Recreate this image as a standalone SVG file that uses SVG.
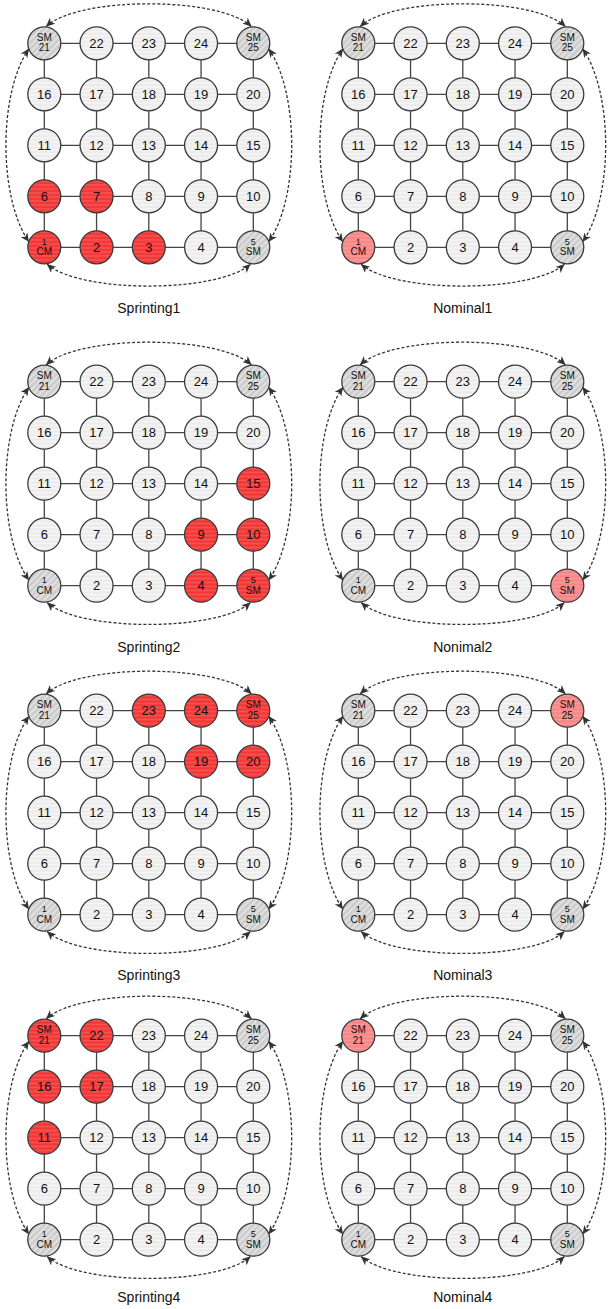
<svg xmlns="http://www.w3.org/2000/svg" width="608" height="1309" viewBox="0 0 608 1309">
  <style>
    .grid { fill: none; stroke: #444; stroke-width: 1.3; }
    .arc { fill: none; stroke: #333; stroke-width: 1.3; stroke-dasharray: 3 2; marker-start: url(#arrow); marker-end: url(#arrow); }
    circle { stroke: #3a3a3a; stroke-width: 1.3; }
    .n { fill: url(#stripeGray); }
    .r { fill: url(#stripeRed); }
    .l { fill: url(#stripePink); }
    .h { fill: url(#hatchGray); }
    text { font-family: "Liberation Sans", Arial, sans-serif; text-anchor: middle; fill: #111; }
    .num { font-size: 13px; }
    .sm { font-size: 10px; }
    .xs { font-size: 9px; }
    .cap { font-size: 14px; }
  </style>
  <defs>
    <pattern id="stripeGray" patternUnits="userSpaceOnUse" width="8" height="4">
      <rect width="8" height="4" fill="#ebebeb"/>
      <rect width="8" height="1.4" fill="#f8f8f8"/>
    </pattern>
    <pattern id="stripeRed" patternUnits="userSpaceOnUse" width="8" height="4">
      <rect width="8" height="4" fill="#f23737"/>
      <rect width="8" height="1.4" fill="#f65858"/>
    </pattern>
    <pattern id="stripePink" patternUnits="userSpaceOnUse" width="8" height="4">
      <rect width="8" height="4" fill="#f78686"/>
      <rect width="8" height="1.4" fill="#f89c9c"/>
    </pattern>
    <pattern id="hatchGray" patternUnits="userSpaceOnUse" width="4.5" height="8" patternTransform="rotate(45)">
      <rect width="4.5" height="8" fill="#cdcdcd"/>
      <rect width="1.6" height="8" fill="#e4e4e4"/>
    </pattern>
    <marker id="arrow" viewBox="0 0 9 8" refX="8.5" refY="4" markerWidth="9" markerHeight="8" markerUnits="userSpaceOnUse" orient="auto-start-reverse">
      <path d="M0,0 L9,4 L0,8 L2.5,4 Z" fill="#333"/>
    </marker>
  </defs>

  <!-- ===== Sprinting1 ===== -->
  <g id="panel-s1" transform="translate(44.3,43.3)">
    <g id="s1-edges">
      <path class="grid" d="M0,0H209M0,51H209M0,102H209M0,153H209M0,204H209M0,0V204M52.25,0V204M104.5,0V204M156.75,0V204M209,0V204"/>
      <path class="arc" d="M2,-17 C35,-47 174,-47 207,-17"/>
      <path class="arc" d="M-15.5,5.6 C-46,50 -46,154 -15.5,198.4"/>
      <path class="arc" d="M224.5,5.6 C255,50 255,154 224.5,198.4"/>
      <path class="arc" d="M3,221 C36,250 173,250 206,221"/>
    </g>
    <g id="s1-n1" transform="translate(0,204)"><circle class="r" r="16.5"/><text class="xs" y="-2.4">1</text><text class="sm" y="8">CM</text></g>
    <g id="s1-n2" transform="translate(52.25,204)"><circle class="r" r="16.5"/><text class="num" y="4.6">2</text></g>
    <g id="s1-n3" transform="translate(104.5,204)"><circle class="r" r="16.5"/><text class="num" y="4.6">3</text></g>
    <g id="s1-n4" transform="translate(156.75,204)"><circle class="n" r="16.5"/><text class="num" y="4.6">4</text></g>
    <g id="s1-n5" transform="translate(209,204)"><circle class="h" r="16.5"/><text class="xs" y="-2.4">5</text><text class="sm" y="8">SM</text></g>
    <g id="s1-n6" transform="translate(0,153)"><circle class="r" r="16.5"/><text class="num" y="4.6">6</text></g>
    <g id="s1-n7" transform="translate(52.25,153)"><circle class="r" r="16.5"/><text class="num" y="4.6">7</text></g>
    <g id="s1-n8" transform="translate(104.5,153)"><circle class="n" r="16.5"/><text class="num" y="4.6">8</text></g>
    <g id="s1-n9" transform="translate(156.75,153)"><circle class="n" r="16.5"/><text class="num" y="4.6">9</text></g>
    <g id="s1-n10" transform="translate(209,153)"><circle class="n" r="16.5"/><text class="num" y="4.6">10</text></g>
    <g id="s1-n11" transform="translate(0,102)"><circle class="n" r="16.5"/><text class="num" y="4.6">11</text></g>
    <g id="s1-n12" transform="translate(52.25,102)"><circle class="n" r="16.5"/><text class="num" y="4.6">12</text></g>
    <g id="s1-n13" transform="translate(104.5,102)"><circle class="n" r="16.5"/><text class="num" y="4.6">13</text></g>
    <g id="s1-n14" transform="translate(156.75,102)"><circle class="n" r="16.5"/><text class="num" y="4.6">14</text></g>
    <g id="s1-n15" transform="translate(209,102)"><circle class="n" r="16.5"/><text class="num" y="4.6">15</text></g>
    <g id="s1-n16" transform="translate(0,51)"><circle class="n" r="16.5"/><text class="num" y="4.6">16</text></g>
    <g id="s1-n17" transform="translate(52.25,51)"><circle class="n" r="16.5"/><text class="num" y="4.6">17</text></g>
    <g id="s1-n18" transform="translate(104.5,51)"><circle class="n" r="16.5"/><text class="num" y="4.6">18</text></g>
    <g id="s1-n19" transform="translate(156.75,51)"><circle class="n" r="16.5"/><text class="num" y="4.6">19</text></g>
    <g id="s1-n20" transform="translate(209,51)"><circle class="n" r="16.5"/><text class="num" y="4.6">20</text></g>
    <g id="s1-n21" transform="translate(0,0)"><circle class="h" r="16.5"/><text class="sm" y="-2.4">SM</text><text class="sm" y="8.1">21</text></g>
    <g id="s1-n22" transform="translate(52.25,0)"><circle class="n" r="16.5"/><text class="num" y="4.6">22</text></g>
    <g id="s1-n23" transform="translate(104.5,0)"><circle class="n" r="16.5"/><text class="num" y="4.6">23</text></g>
    <g id="s1-n24" transform="translate(156.75,0)"><circle class="n" r="16.5"/><text class="num" y="4.6">24</text></g>
    <g id="s1-n25" transform="translate(209,0)"><circle class="h" r="16.5"/><text class="sm" y="-2.4">SM</text><text class="sm" y="8.1">25</text></g>
    <text class="cap" x="104.5" y="269.7">Sprinting1</text>
  </g>

  <!-- ===== Nominal1 ===== -->
  <g id="panel-n1" transform="translate(358.3,43.3)">
    <g id="n1-edges">
      <path class="grid" d="M0,0H209M0,51H209M0,102H209M0,153H209M0,204H209M0,0V204M52.25,0V204M104.5,0V204M156.75,0V204M209,0V204"/>
      <path class="arc" d="M2,-17 C35,-47 174,-47 207,-17"/>
      <path class="arc" d="M-15.5,5.6 C-46,50 -46,154 -15.5,198.4"/>
      <path class="arc" d="M224.5,5.6 C255,50 255,154 224.5,198.4"/>
      <path class="arc" d="M3,221 C36,250 173,250 206,221"/>
    </g>
    <g id="n1-n1" transform="translate(0,204)"><circle class="l" r="16.5"/><text class="xs" y="-2.4">1</text><text class="sm" y="8">CM</text></g>
    <g id="n1-n2" transform="translate(52.25,204)"><circle class="n" r="16.5"/><text class="num" y="4.6">2</text></g>
    <g id="n1-n3" transform="translate(104.5,204)"><circle class="n" r="16.5"/><text class="num" y="4.6">3</text></g>
    <g id="n1-n4" transform="translate(156.75,204)"><circle class="n" r="16.5"/><text class="num" y="4.6">4</text></g>
    <g id="n1-n5" transform="translate(209,204)"><circle class="h" r="16.5"/><text class="xs" y="-2.4">5</text><text class="sm" y="8">SM</text></g>
    <g id="n1-n6" transform="translate(0,153)"><circle class="n" r="16.5"/><text class="num" y="4.6">6</text></g>
    <g id="n1-n7" transform="translate(52.25,153)"><circle class="n" r="16.5"/><text class="num" y="4.6">7</text></g>
    <g id="n1-n8" transform="translate(104.5,153)"><circle class="n" r="16.5"/><text class="num" y="4.6">8</text></g>
    <g id="n1-n9" transform="translate(156.75,153)"><circle class="n" r="16.5"/><text class="num" y="4.6">9</text></g>
    <g id="n1-n10" transform="translate(209,153)"><circle class="n" r="16.5"/><text class="num" y="4.6">10</text></g>
    <g id="n1-n11" transform="translate(0,102)"><circle class="n" r="16.5"/><text class="num" y="4.6">11</text></g>
    <g id="n1-n12" transform="translate(52.25,102)"><circle class="n" r="16.5"/><text class="num" y="4.6">12</text></g>
    <g id="n1-n13" transform="translate(104.5,102)"><circle class="n" r="16.5"/><text class="num" y="4.6">13</text></g>
    <g id="n1-n14" transform="translate(156.75,102)"><circle class="n" r="16.5"/><text class="num" y="4.6">14</text></g>
    <g id="n1-n15" transform="translate(209,102)"><circle class="n" r="16.5"/><text class="num" y="4.6">15</text></g>
    <g id="n1-n16" transform="translate(0,51)"><circle class="n" r="16.5"/><text class="num" y="4.6">16</text></g>
    <g id="n1-n17" transform="translate(52.25,51)"><circle class="n" r="16.5"/><text class="num" y="4.6">17</text></g>
    <g id="n1-n18" transform="translate(104.5,51)"><circle class="n" r="16.5"/><text class="num" y="4.6">18</text></g>
    <g id="n1-n19" transform="translate(156.75,51)"><circle class="n" r="16.5"/><text class="num" y="4.6">19</text></g>
    <g id="n1-n20" transform="translate(209,51)"><circle class="n" r="16.5"/><text class="num" y="4.6">20</text></g>
    <g id="n1-n21" transform="translate(0,0)"><circle class="h" r="16.5"/><text class="sm" y="-2.4">SM</text><text class="sm" y="8.1">21</text></g>
    <g id="n1-n22" transform="translate(52.25,0)"><circle class="n" r="16.5"/><text class="num" y="4.6">22</text></g>
    <g id="n1-n23" transform="translate(104.5,0)"><circle class="n" r="16.5"/><text class="num" y="4.6">23</text></g>
    <g id="n1-n24" transform="translate(156.75,0)"><circle class="n" r="16.5"/><text class="num" y="4.6">24</text></g>
    <g id="n1-n25" transform="translate(209,0)"><circle class="h" r="16.5"/><text class="sm" y="-2.4">SM</text><text class="sm" y="8.1">25</text></g>
    <text class="cap" x="104.5" y="269.7">Nominal1</text>
  </g>

  <!-- ===== Sprinting2 ===== -->
  <g id="panel-s2" transform="translate(44.3,381.7)">
    <g id="s2-edges">
      <path class="grid" d="M0,0H209M0,51H209M0,102H209M0,153H209M0,204H209M0,0V204M52.25,0V204M104.5,0V204M156.75,0V204M209,0V204"/>
      <path class="arc" d="M2,-17 C35,-47 174,-47 207,-17"/>
      <path class="arc" d="M-15.5,5.6 C-46,50 -46,154 -15.5,198.4"/>
      <path class="arc" d="M224.5,5.6 C255,50 255,154 224.5,198.4"/>
      <path class="arc" d="M3,221 C36,250 173,250 206,221"/>
    </g>
    <g id="s2-n1" transform="translate(0,204)"><circle class="h" r="16.5"/><text class="xs" y="-2.4">1</text><text class="sm" y="8">CM</text></g>
    <g id="s2-n2" transform="translate(52.25,204)"><circle class="n" r="16.5"/><text class="num" y="4.6">2</text></g>
    <g id="s2-n3" transform="translate(104.5,204)"><circle class="n" r="16.5"/><text class="num" y="4.6">3</text></g>
    <g id="s2-n4" transform="translate(156.75,204)"><circle class="r" r="16.5"/><text class="num" y="4.6">4</text></g>
    <g id="s2-n5" transform="translate(209,204)"><circle class="r" r="16.5"/><text class="xs" y="-2.4">5</text><text class="sm" y="8">SM</text></g>
    <g id="s2-n6" transform="translate(0,153)"><circle class="n" r="16.5"/><text class="num" y="4.6">6</text></g>
    <g id="s2-n7" transform="translate(52.25,153)"><circle class="n" r="16.5"/><text class="num" y="4.6">7</text></g>
    <g id="s2-n8" transform="translate(104.5,153)"><circle class="n" r="16.5"/><text class="num" y="4.6">8</text></g>
    <g id="s2-n9" transform="translate(156.75,153)"><circle class="r" r="16.5"/><text class="num" y="4.6">9</text></g>
    <g id="s2-n10" transform="translate(209,153)"><circle class="r" r="16.5"/><text class="num" y="4.6">10</text></g>
    <g id="s2-n11" transform="translate(0,102)"><circle class="n" r="16.5"/><text class="num" y="4.6">11</text></g>
    <g id="s2-n12" transform="translate(52.25,102)"><circle class="n" r="16.5"/><text class="num" y="4.6">12</text></g>
    <g id="s2-n13" transform="translate(104.5,102)"><circle class="n" r="16.5"/><text class="num" y="4.6">13</text></g>
    <g id="s2-n14" transform="translate(156.75,102)"><circle class="n" r="16.5"/><text class="num" y="4.6">14</text></g>
    <g id="s2-n15" transform="translate(209,102)"><circle class="r" r="16.5"/><text class="num" y="4.6">15</text></g>
    <g id="s2-n16" transform="translate(0,51)"><circle class="n" r="16.5"/><text class="num" y="4.6">16</text></g>
    <g id="s2-n17" transform="translate(52.25,51)"><circle class="n" r="16.5"/><text class="num" y="4.6">17</text></g>
    <g id="s2-n18" transform="translate(104.5,51)"><circle class="n" r="16.5"/><text class="num" y="4.6">18</text></g>
    <g id="s2-n19" transform="translate(156.75,51)"><circle class="n" r="16.5"/><text class="num" y="4.6">19</text></g>
    <g id="s2-n20" transform="translate(209,51)"><circle class="n" r="16.5"/><text class="num" y="4.6">20</text></g>
    <g id="s2-n21" transform="translate(0,0)"><circle class="h" r="16.5"/><text class="sm" y="-2.4">SM</text><text class="sm" y="8.1">21</text></g>
    <g id="s2-n22" transform="translate(52.25,0)"><circle class="n" r="16.5"/><text class="num" y="4.6">22</text></g>
    <g id="s2-n23" transform="translate(104.5,0)"><circle class="n" r="16.5"/><text class="num" y="4.6">23</text></g>
    <g id="s2-n24" transform="translate(156.75,0)"><circle class="n" r="16.5"/><text class="num" y="4.6">24</text></g>
    <g id="s2-n25" transform="translate(209,0)"><circle class="h" r="16.5"/><text class="sm" y="-2.4">SM</text><text class="sm" y="8.1">25</text></g>
    <text class="cap" x="104.5" y="270.3">Sprinting2</text>
  </g>

  <!-- ===== Nonimal2 ===== -->
  <g id="panel-n2" transform="translate(358.3,381.7)">
    <g id="n2-edges">
      <path class="grid" d="M0,0H209M0,51H209M0,102H209M0,153H209M0,204H209M0,0V204M52.25,0V204M104.5,0V204M156.75,0V204M209,0V204"/>
      <path class="arc" d="M2,-17 C35,-47 174,-47 207,-17"/>
      <path class="arc" d="M-15.5,5.6 C-46,50 -46,154 -15.5,198.4"/>
      <path class="arc" d="M224.5,5.6 C255,50 255,154 224.5,198.4"/>
      <path class="arc" d="M3,221 C36,250 173,250 206,221"/>
    </g>
    <g id="n2-n1" transform="translate(0,204)"><circle class="h" r="16.5"/><text class="xs" y="-2.4">1</text><text class="sm" y="8">CM</text></g>
    <g id="n2-n2" transform="translate(52.25,204)"><circle class="n" r="16.5"/><text class="num" y="4.6">2</text></g>
    <g id="n2-n3" transform="translate(104.5,204)"><circle class="n" r="16.5"/><text class="num" y="4.6">3</text></g>
    <g id="n2-n4" transform="translate(156.75,204)"><circle class="n" r="16.5"/><text class="num" y="4.6">4</text></g>
    <g id="n2-n5" transform="translate(209,204)"><circle class="l" r="16.5"/><text class="xs" y="-2.4">5</text><text class="sm" y="8">SM</text></g>
    <g id="n2-n6" transform="translate(0,153)"><circle class="n" r="16.5"/><text class="num" y="4.6">6</text></g>
    <g id="n2-n7" transform="translate(52.25,153)"><circle class="n" r="16.5"/><text class="num" y="4.6">7</text></g>
    <g id="n2-n8" transform="translate(104.5,153)"><circle class="n" r="16.5"/><text class="num" y="4.6">8</text></g>
    <g id="n2-n9" transform="translate(156.75,153)"><circle class="n" r="16.5"/><text class="num" y="4.6">9</text></g>
    <g id="n2-n10" transform="translate(209,153)"><circle class="n" r="16.5"/><text class="num" y="4.6">10</text></g>
    <g id="n2-n11" transform="translate(0,102)"><circle class="n" r="16.5"/><text class="num" y="4.6">11</text></g>
    <g id="n2-n12" transform="translate(52.25,102)"><circle class="n" r="16.5"/><text class="num" y="4.6">12</text></g>
    <g id="n2-n13" transform="translate(104.5,102)"><circle class="n" r="16.5"/><text class="num" y="4.6">13</text></g>
    <g id="n2-n14" transform="translate(156.75,102)"><circle class="n" r="16.5"/><text class="num" y="4.6">14</text></g>
    <g id="n2-n15" transform="translate(209,102)"><circle class="n" r="16.5"/><text class="num" y="4.6">15</text></g>
    <g id="n2-n16" transform="translate(0,51)"><circle class="n" r="16.5"/><text class="num" y="4.6">16</text></g>
    <g id="n2-n17" transform="translate(52.25,51)"><circle class="n" r="16.5"/><text class="num" y="4.6">17</text></g>
    <g id="n2-n18" transform="translate(104.5,51)"><circle class="n" r="16.5"/><text class="num" y="4.6">18</text></g>
    <g id="n2-n19" transform="translate(156.75,51)"><circle class="n" r="16.5"/><text class="num" y="4.6">19</text></g>
    <g id="n2-n20" transform="translate(209,51)"><circle class="n" r="16.5"/><text class="num" y="4.6">20</text></g>
    <g id="n2-n21" transform="translate(0,0)"><circle class="h" r="16.5"/><text class="sm" y="-2.4">SM</text><text class="sm" y="8.1">21</text></g>
    <g id="n2-n22" transform="translate(52.25,0)"><circle class="n" r="16.5"/><text class="num" y="4.6">22</text></g>
    <g id="n2-n23" transform="translate(104.5,0)"><circle class="n" r="16.5"/><text class="num" y="4.6">23</text></g>
    <g id="n2-n24" transform="translate(156.75,0)"><circle class="n" r="16.5"/><text class="num" y="4.6">24</text></g>
    <g id="n2-n25" transform="translate(209,0)"><circle class="h" r="16.5"/><text class="sm" y="-2.4">SM</text><text class="sm" y="8.1">25</text></g>
    <text class="cap" x="104.5" y="270.3">Nonimal2</text>
  </g>

  <!-- ===== Sprinting3 ===== -->
  <g id="panel-s3" transform="translate(44.3,710.7)">
    <g id="s3-edges">
      <path class="grid" d="M0,0H209M0,51H209M0,102H209M0,153H209M0,204H209M0,0V204M52.25,0V204M104.5,0V204M156.75,0V204M209,0V204"/>
      <path class="arc" d="M2,-17 C35,-47 174,-47 207,-17"/>
      <path class="arc" d="M-15.5,5.6 C-46,50 -46,154 -15.5,198.4"/>
      <path class="arc" d="M224.5,5.6 C255,50 255,154 224.5,198.4"/>
      <path class="arc" d="M3,221 C36,250 173,250 206,221"/>
    </g>
    <g id="s3-n1" transform="translate(0,204)"><circle class="h" r="16.5"/><text class="xs" y="-2.4">1</text><text class="sm" y="8">CM</text></g>
    <g id="s3-n2" transform="translate(52.25,204)"><circle class="n" r="16.5"/><text class="num" y="4.6">2</text></g>
    <g id="s3-n3" transform="translate(104.5,204)"><circle class="n" r="16.5"/><text class="num" y="4.6">3</text></g>
    <g id="s3-n4" transform="translate(156.75,204)"><circle class="n" r="16.5"/><text class="num" y="4.6">4</text></g>
    <g id="s3-n5" transform="translate(209,204)"><circle class="h" r="16.5"/><text class="xs" y="-2.4">5</text><text class="sm" y="8">SM</text></g>
    <g id="s3-n6" transform="translate(0,153)"><circle class="n" r="16.5"/><text class="num" y="4.6">6</text></g>
    <g id="s3-n7" transform="translate(52.25,153)"><circle class="n" r="16.5"/><text class="num" y="4.6">7</text></g>
    <g id="s3-n8" transform="translate(104.5,153)"><circle class="n" r="16.5"/><text class="num" y="4.6">8</text></g>
    <g id="s3-n9" transform="translate(156.75,153)"><circle class="n" r="16.5"/><text class="num" y="4.6">9</text></g>
    <g id="s3-n10" transform="translate(209,153)"><circle class="n" r="16.5"/><text class="num" y="4.6">10</text></g>
    <g id="s3-n11" transform="translate(0,102)"><circle class="n" r="16.5"/><text class="num" y="4.6">11</text></g>
    <g id="s3-n12" transform="translate(52.25,102)"><circle class="n" r="16.5"/><text class="num" y="4.6">12</text></g>
    <g id="s3-n13" transform="translate(104.5,102)"><circle class="n" r="16.5"/><text class="num" y="4.6">13</text></g>
    <g id="s3-n14" transform="translate(156.75,102)"><circle class="n" r="16.5"/><text class="num" y="4.6">14</text></g>
    <g id="s3-n15" transform="translate(209,102)"><circle class="n" r="16.5"/><text class="num" y="4.6">15</text></g>
    <g id="s3-n16" transform="translate(0,51)"><circle class="n" r="16.5"/><text class="num" y="4.6">16</text></g>
    <g id="s3-n17" transform="translate(52.25,51)"><circle class="n" r="16.5"/><text class="num" y="4.6">17</text></g>
    <g id="s3-n18" transform="translate(104.5,51)"><circle class="n" r="16.5"/><text class="num" y="4.6">18</text></g>
    <g id="s3-n19" transform="translate(156.75,51)"><circle class="r" r="16.5"/><text class="num" y="4.6">19</text></g>
    <g id="s3-n20" transform="translate(209,51)"><circle class="r" r="16.5"/><text class="num" y="4.6">20</text></g>
    <g id="s3-n21" transform="translate(0,0)"><circle class="h" r="16.5"/><text class="sm" y="-2.4">SM</text><text class="sm" y="8.1">21</text></g>
    <g id="s3-n22" transform="translate(52.25,0)"><circle class="n" r="16.5"/><text class="num" y="4.6">22</text></g>
    <g id="s3-n23" transform="translate(104.5,0)"><circle class="r" r="16.5"/><text class="num" y="4.6">23</text></g>
    <g id="s3-n24" transform="translate(156.75,0)"><circle class="r" r="16.5"/><text class="num" y="4.6">24</text></g>
    <g id="s3-n25" transform="translate(209,0)"><circle class="r" r="16.5"/><text class="sm" y="-2.4">SM</text><text class="sm" y="8.1">25</text></g>
    <text class="cap" x="104.5" y="269.3">Sprinting3</text>
  </g>

  <!-- ===== Nominal3 ===== -->
  <g id="panel-n3" transform="translate(358.3,710.7)">
    <g id="n3-edges">
      <path class="grid" d="M0,0H209M0,51H209M0,102H209M0,153H209M0,204H209M0,0V204M52.25,0V204M104.5,0V204M156.75,0V204M209,0V204"/>
      <path class="arc" d="M2,-17 C35,-47 174,-47 207,-17"/>
      <path class="arc" d="M-15.5,5.6 C-46,50 -46,154 -15.5,198.4"/>
      <path class="arc" d="M224.5,5.6 C255,50 255,154 224.5,198.4"/>
      <path class="arc" d="M3,221 C36,250 173,250 206,221"/>
    </g>
    <g id="n3-n1" transform="translate(0,204)"><circle class="h" r="16.5"/><text class="xs" y="-2.4">1</text><text class="sm" y="8">CM</text></g>
    <g id="n3-n2" transform="translate(52.25,204)"><circle class="n" r="16.5"/><text class="num" y="4.6">2</text></g>
    <g id="n3-n3" transform="translate(104.5,204)"><circle class="n" r="16.5"/><text class="num" y="4.6">3</text></g>
    <g id="n3-n4" transform="translate(156.75,204)"><circle class="n" r="16.5"/><text class="num" y="4.6">4</text></g>
    <g id="n3-n5" transform="translate(209,204)"><circle class="h" r="16.5"/><text class="xs" y="-2.4">5</text><text class="sm" y="8">SM</text></g>
    <g id="n3-n6" transform="translate(0,153)"><circle class="n" r="16.5"/><text class="num" y="4.6">6</text></g>
    <g id="n3-n7" transform="translate(52.25,153)"><circle class="n" r="16.5"/><text class="num" y="4.6">7</text></g>
    <g id="n3-n8" transform="translate(104.5,153)"><circle class="n" r="16.5"/><text class="num" y="4.6">8</text></g>
    <g id="n3-n9" transform="translate(156.75,153)"><circle class="n" r="16.5"/><text class="num" y="4.6">9</text></g>
    <g id="n3-n10" transform="translate(209,153)"><circle class="n" r="16.5"/><text class="num" y="4.6">10</text></g>
    <g id="n3-n11" transform="translate(0,102)"><circle class="n" r="16.5"/><text class="num" y="4.6">11</text></g>
    <g id="n3-n12" transform="translate(52.25,102)"><circle class="n" r="16.5"/><text class="num" y="4.6">12</text></g>
    <g id="n3-n13" transform="translate(104.5,102)"><circle class="n" r="16.5"/><text class="num" y="4.6">13</text></g>
    <g id="n3-n14" transform="translate(156.75,102)"><circle class="n" r="16.5"/><text class="num" y="4.6">14</text></g>
    <g id="n3-n15" transform="translate(209,102)"><circle class="n" r="16.5"/><text class="num" y="4.6">15</text></g>
    <g id="n3-n16" transform="translate(0,51)"><circle class="n" r="16.5"/><text class="num" y="4.6">16</text></g>
    <g id="n3-n17" transform="translate(52.25,51)"><circle class="n" r="16.5"/><text class="num" y="4.6">17</text></g>
    <g id="n3-n18" transform="translate(104.5,51)"><circle class="n" r="16.5"/><text class="num" y="4.6">18</text></g>
    <g id="n3-n19" transform="translate(156.75,51)"><circle class="n" r="16.5"/><text class="num" y="4.6">19</text></g>
    <g id="n3-n20" transform="translate(209,51)"><circle class="n" r="16.5"/><text class="num" y="4.6">20</text></g>
    <g id="n3-n21" transform="translate(0,0)"><circle class="h" r="16.5"/><text class="sm" y="-2.4">SM</text><text class="sm" y="8.1">21</text></g>
    <g id="n3-n22" transform="translate(52.25,0)"><circle class="n" r="16.5"/><text class="num" y="4.6">22</text></g>
    <g id="n3-n23" transform="translate(104.5,0)"><circle class="n" r="16.5"/><text class="num" y="4.6">23</text></g>
    <g id="n3-n24" transform="translate(156.75,0)"><circle class="n" r="16.5"/><text class="num" y="4.6">24</text></g>
    <g id="n3-n25" transform="translate(209,0)"><circle class="l" r="16.5"/><text class="sm" y="-2.4">SM</text><text class="sm" y="8.1">25</text></g>
    <text class="cap" x="104.5" y="269.3">Nominal3</text>
  </g>

  <!-- ===== Sprinting4 ===== -->
  <g id="panel-s4" transform="translate(44.3,1035.7)">
    <g id="s4-edges">
      <path class="grid" d="M0,0H209M0,51H209M0,102H209M0,153H209M0,204H209M0,0V204M52.25,0V204M104.5,0V204M156.75,0V204M209,0V204"/>
      <path class="arc" d="M2,-17 C35,-47 174,-47 207,-17"/>
      <path class="arc" d="M-15.5,5.6 C-46,50 -46,154 -15.5,198.4"/>
      <path class="arc" d="M224.5,5.6 C255,50 255,154 224.5,198.4"/>
      <path class="arc" d="M3,221 C36,250 173,250 206,221"/>
    </g>
    <g id="s4-n1" transform="translate(0,204)"><circle class="h" r="16.5"/><text class="xs" y="-2.4">1</text><text class="sm" y="8">CM</text></g>
    <g id="s4-n2" transform="translate(52.25,204)"><circle class="n" r="16.5"/><text class="num" y="4.6">2</text></g>
    <g id="s4-n3" transform="translate(104.5,204)"><circle class="n" r="16.5"/><text class="num" y="4.6">3</text></g>
    <g id="s4-n4" transform="translate(156.75,204)"><circle class="n" r="16.5"/><text class="num" y="4.6">4</text></g>
    <g id="s4-n5" transform="translate(209,204)"><circle class="h" r="16.5"/><text class="xs" y="-2.4">5</text><text class="sm" y="8">SM</text></g>
    <g id="s4-n6" transform="translate(0,153)"><circle class="n" r="16.5"/><text class="num" y="4.6">6</text></g>
    <g id="s4-n7" transform="translate(52.25,153)"><circle class="n" r="16.5"/><text class="num" y="4.6">7</text></g>
    <g id="s4-n8" transform="translate(104.5,153)"><circle class="n" r="16.5"/><text class="num" y="4.6">8</text></g>
    <g id="s4-n9" transform="translate(156.75,153)"><circle class="n" r="16.5"/><text class="num" y="4.6">9</text></g>
    <g id="s4-n10" transform="translate(209,153)"><circle class="n" r="16.5"/><text class="num" y="4.6">10</text></g>
    <g id="s4-n11" transform="translate(0,102)"><circle class="r" r="16.5"/><text class="num" y="4.6">11</text></g>
    <g id="s4-n12" transform="translate(52.25,102)"><circle class="n" r="16.5"/><text class="num" y="4.6">12</text></g>
    <g id="s4-n13" transform="translate(104.5,102)"><circle class="n" r="16.5"/><text class="num" y="4.6">13</text></g>
    <g id="s4-n14" transform="translate(156.75,102)"><circle class="n" r="16.5"/><text class="num" y="4.6">14</text></g>
    <g id="s4-n15" transform="translate(209,102)"><circle class="n" r="16.5"/><text class="num" y="4.6">15</text></g>
    <g id="s4-n16" transform="translate(0,51)"><circle class="r" r="16.5"/><text class="num" y="4.6">16</text></g>
    <g id="s4-n17" transform="translate(52.25,51)"><circle class="r" r="16.5"/><text class="num" y="4.6">17</text></g>
    <g id="s4-n18" transform="translate(104.5,51)"><circle class="n" r="16.5"/><text class="num" y="4.6">18</text></g>
    <g id="s4-n19" transform="translate(156.75,51)"><circle class="n" r="16.5"/><text class="num" y="4.6">19</text></g>
    <g id="s4-n20" transform="translate(209,51)"><circle class="n" r="16.5"/><text class="num" y="4.6">20</text></g>
    <g id="s4-n21" transform="translate(0,0)"><circle class="r" r="16.5"/><text class="sm" y="-2.4">SM</text><text class="sm" y="8.1">21</text></g>
    <g id="s4-n22" transform="translate(52.25,0)"><circle class="r" r="16.5"/><text class="num" y="4.6">22</text></g>
    <g id="s4-n23" transform="translate(104.5,0)"><circle class="n" r="16.5"/><text class="num" y="4.6">23</text></g>
    <g id="s4-n24" transform="translate(156.75,0)"><circle class="n" r="16.5"/><text class="num" y="4.6">24</text></g>
    <g id="s4-n25" transform="translate(209,0)"><circle class="h" r="16.5"/><text class="sm" y="-2.4">SM</text><text class="sm" y="8.1">25</text></g>
    <text class="cap" x="104.5" y="266.3">Sprinting4</text>
  </g>

  <!-- ===== Nominal4 ===== -->
  <g id="panel-n4" transform="translate(358.3,1035.7)">
    <g id="n4-edges">
      <path class="grid" d="M0,0H209M0,51H209M0,102H209M0,153H209M0,204H209M0,0V204M52.25,0V204M104.5,0V204M156.75,0V204M209,0V204"/>
      <path class="arc" d="M2,-17 C35,-47 174,-47 207,-17"/>
      <path class="arc" d="M-15.5,5.6 C-46,50 -46,154 -15.5,198.4"/>
      <path class="arc" d="M224.5,5.6 C255,50 255,154 224.5,198.4"/>
      <path class="arc" d="M3,221 C36,250 173,250 206,221"/>
    </g>
    <g id="n4-n1" transform="translate(0,204)"><circle class="h" r="16.5"/><text class="xs" y="-2.4">1</text><text class="sm" y="8">CM</text></g>
    <g id="n4-n2" transform="translate(52.25,204)"><circle class="n" r="16.5"/><text class="num" y="4.6">2</text></g>
    <g id="n4-n3" transform="translate(104.5,204)"><circle class="n" r="16.5"/><text class="num" y="4.6">3</text></g>
    <g id="n4-n4" transform="translate(156.75,204)"><circle class="n" r="16.5"/><text class="num" y="4.6">4</text></g>
    <g id="n4-n5" transform="translate(209,204)"><circle class="h" r="16.5"/><text class="xs" y="-2.4">5</text><text class="sm" y="8">SM</text></g>
    <g id="n4-n6" transform="translate(0,153)"><circle class="n" r="16.5"/><text class="num" y="4.6">6</text></g>
    <g id="n4-n7" transform="translate(52.25,153)"><circle class="n" r="16.5"/><text class="num" y="4.6">7</text></g>
    <g id="n4-n8" transform="translate(104.5,153)"><circle class="n" r="16.5"/><text class="num" y="4.6">8</text></g>
    <g id="n4-n9" transform="translate(156.75,153)"><circle class="n" r="16.5"/><text class="num" y="4.6">9</text></g>
    <g id="n4-n10" transform="translate(209,153)"><circle class="n" r="16.5"/><text class="num" y="4.6">10</text></g>
    <g id="n4-n11" transform="translate(0,102)"><circle class="n" r="16.5"/><text class="num" y="4.6">11</text></g>
    <g id="n4-n12" transform="translate(52.25,102)"><circle class="n" r="16.5"/><text class="num" y="4.6">12</text></g>
    <g id="n4-n13" transform="translate(104.5,102)"><circle class="n" r="16.5"/><text class="num" y="4.6">13</text></g>
    <g id="n4-n14" transform="translate(156.75,102)"><circle class="n" r="16.5"/><text class="num" y="4.6">14</text></g>
    <g id="n4-n15" transform="translate(209,102)"><circle class="n" r="16.5"/><text class="num" y="4.6">15</text></g>
    <g id="n4-n16" transform="translate(0,51)"><circle class="n" r="16.5"/><text class="num" y="4.6">16</text></g>
    <g id="n4-n17" transform="translate(52.25,51)"><circle class="n" r="16.5"/><text class="num" y="4.6">17</text></g>
    <g id="n4-n18" transform="translate(104.5,51)"><circle class="n" r="16.5"/><text class="num" y="4.6">18</text></g>
    <g id="n4-n19" transform="translate(156.75,51)"><circle class="n" r="16.5"/><text class="num" y="4.6">19</text></g>
    <g id="n4-n20" transform="translate(209,51)"><circle class="n" r="16.5"/><text class="num" y="4.6">20</text></g>
    <g id="n4-n21" transform="translate(0,0)"><circle class="l" r="16.5"/><text class="sm" y="-2.4">SM</text><text class="sm" y="8.1">21</text></g>
    <g id="n4-n22" transform="translate(52.25,0)"><circle class="n" r="16.5"/><text class="num" y="4.6">22</text></g>
    <g id="n4-n23" transform="translate(104.5,0)"><circle class="n" r="16.5"/><text class="num" y="4.6">23</text></g>
    <g id="n4-n24" transform="translate(156.75,0)"><circle class="n" r="16.5"/><text class="num" y="4.6">24</text></g>
    <g id="n4-n25" transform="translate(209,0)"><circle class="h" r="16.5"/><text class="sm" y="-2.4">SM</text><text class="sm" y="8.1">25</text></g>
    <text class="cap" x="104.5" y="266.3">Nominal4</text>
  </g>
</svg>
